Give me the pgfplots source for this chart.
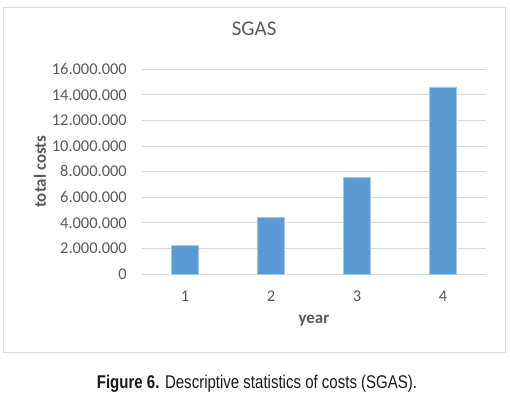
\documentclass[border=0pt]{standalone}
\usepackage{pgfplots}
\pgfplotsset{compat=1.18}
\usepackage{fontspec}
\setmainfont{Carlito}
\newfontfamily\capfont[FakeStretch=0.815]{Liberation Sans}
\definecolor{barblue}{HTML}{5B9BD5}
\definecolor{gridgray}{HTML}{D9D9D9}
\definecolor{txtgray}{HTML}{595959}
\definecolor{boxgray}{HTML}{D9D9D9}
\begin{document}
\begin{tikzpicture}[x=1bp,y=1bp]
\path[use as bounding box] (0,0) rectangle (510,396);
\draw[boxgray, line width=1bp] (3.5,43.5) rectangle (505,388);
\begin{axis}[
  at={(142bp,122bp)}, anchor=south west,
  scale only axis, width=344bp, height=204.7bp,
  xmin=0.5, xmax=4.5, ymin=0, ymax=16000000,
  xtick={1,2,3,4}, ytick={0,2000000,...,16000000},
  ymajorgrids, major grid style={gridgray, line width=1bp},
  axis line style={draw=none}, tick style={draw=none},
  scaled y ticks=false,
  /pgf/number format/fixed, /pgf/number format/1000 sep={.}, /pgf/number format/assume math mode=true,
  every tick label/.append style={font=\fontsize{16.5}{19}\selectfont, text=txtgray, inner sep=0pt},
  yticklabel style={anchor=base east, xshift=-15bp, yshift=-5.2bp},
  xticklabel style={anchor=base, yshift=-27bp},
  xlabel={year}, ylabel={total costs},
  label style={font=\fontsize{17}{20}\selectfont\bfseries, text=txtgray},
  xlabel style={at={(axis description cs:0.5,-0.228)}, anchor=center},
  ylabel style={at={(axis description cs:-0.2965,0.5)}, anchor=center},
  title={SGAS},
  title style={at={(axis description cs:0.326,1.1676)}, anchor=center, font=\fontsize{21}{24}\selectfont, text=txtgray},
  clip=false,
]
\addplot[ybar, bar width=26.7bp, fill=barblue, draw=barblue!55!white, line width=0.6bp]
  coordinates {(1,2240000) (2,4430000) (3,7550000) (4,14630000)};
\end{axis}
\node[anchor=base, font=\capfont\fontsize{18.5}{21}\selectfont, text=black!90] at (257bp,7.3bp)
  {\textbf{Figure 6.} Descriptive statistics of costs (SGAS).};
\end{tikzpicture}
\end{document}
